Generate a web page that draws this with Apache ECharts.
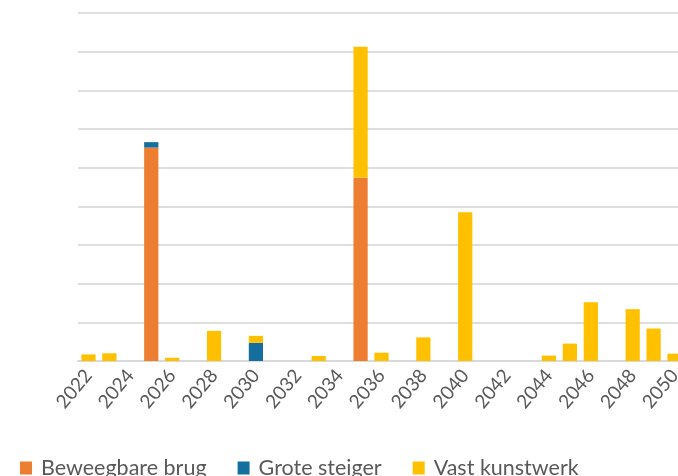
<!DOCTYPE html>
<html>
<head>
<meta charset="utf-8">
<script src="https://cdn.jsdelivr.net/npm/echarts@6/dist/echarts.min.js"></script>
<style>html,body{margin:0;padding:0;background:#fff}#c{width:678px;height:476px}</style>
</head>
<body>
<div id="c"></div>
<script>
const years = ['2022','2023','2024','2025','2026','2027','2028','2029','2030','2031','2032','2033','2034','2035','2036','2037','2038','2039','2040','2041','2042','2043','2044','2045','2046','2047','2048','2049','2050'];
const beweegbareBrug = [0,0,0,5.52,0,0,0,0,0,0,0,0,0,4.74,0,0,0,0,0,0,0,0,0,0,0,0,0,0,0];
const groteSteiger   = [0,0,0,0.14,0,0,0,0,0.47,0,0,0,0,0,0,0,0,0,0,0,0,0,0,0,0,0,0,0,0];
const vastKunstwerk  = [0.17,0.2,0,0,0.085,0,0.78,0,0.18,0,0,0.13,0,3.39,0.215,0,0.61,0,3.85,0,0,0,0.14,0.45,1.52,0,1.34,0.84,0.19];

const chart = echarts.init(document.getElementById('c'));
const font = 'Lato';
chart.setOption({
  animation: false,
  grid: {left: 78, top: 13, width: 607, bottom: 115, containLabel: false, outerBoundsMode: 'none'},
  xAxis: {
    type: 'category', data: years,
    axisLine: {lineStyle: {color: '#d9d9d9', width: 2}},
    axisTick: {show: false},
    axisLabel: {interval: 1, rotate: 50, color: '#595959', fontFamily: font, fontSize: 19, margin: 11}
  },
  yAxis: {
    type: 'value', min: 0, max: 9, interval: 1,
    axisLabel: {show: false}, axisLine: {show: false}, axisTick: {show: false},
    splitLine: {lineStyle: {color: '#dedede', width: 2}}
  },
  legend: {
    left: 15, top: 452, itemWidth: 12, itemHeight: 13, itemGap: 31, icon: 'rect',
    textStyle: {color: '#595959', fontFamily: font, fontSize: 21.5, padding: [0,0,0,4]},
    data: ['Beweegbare brug','Grote steiger','Vast kunstwerk']
  },
  series: [
    {name: 'Beweegbare brug', type: 'bar', stack: 't', data: beweegbareBrug, barCategoryGap: '32%', itemStyle: {color: '#ED7D31'}},
    {name: 'Grote steiger', type: 'bar', stack: 't', data: groteSteiger, itemStyle: {color: '#156F9E'}},
    {name: 'Vast kunstwerk', type: 'bar', stack: 't', data: vastKunstwerk, itemStyle: {color: '#FFC000'}}
  ]
});
</script>
</body>
</html>
